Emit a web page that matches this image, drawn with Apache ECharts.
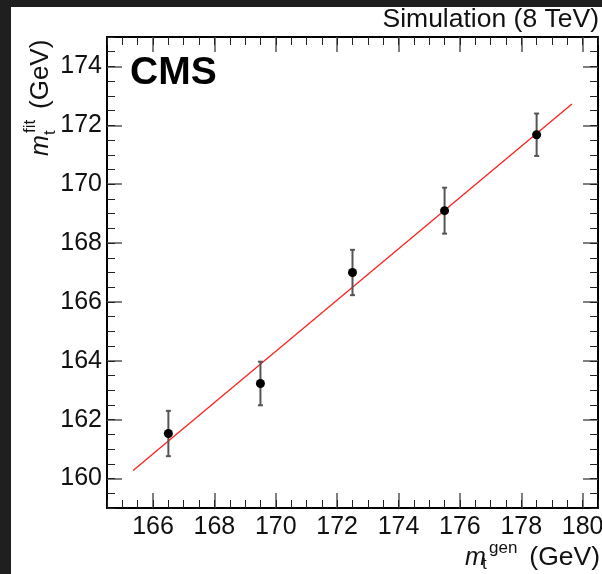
<!DOCTYPE html>
<html>
<head>
<meta charset="utf-8">
<script src="https://cdn.jsdelivr.net/npm/echarts@6/dist/echarts.min.js"></script>
<style>
html,body{margin:0;padding:0;background:#1f1f1f;}
#chart{width:602px;height:574px;}
</style>
</head>
<body>
<div id="chart"></div>
<script>
// ---- data ----
const xGen = [166.5, 169.5, 172.5, 175.5, 178.5];
const mFit = [161.53, 163.23, 167.0, 169.1, 171.68];
const mFitErr = [0.77, 0.74, 0.77, 0.78, 0.72];
const fitLineX = [165.35, 179.65];
const fitLineY = [160.27, 172.72];
const xTicks = [166, 168, 170, 172, 174, 176, 178, 180];
const yTicks = [160, 162, 164, 166, 168, 170, 172, 174];

const FONT = '"Liberation Sans", Arial, Helvetica, sans-serif';
const X_MIN = 164.5, X_MAX = 180.5, Y_MIN = 159, Y_MAX = 175;

const points = xGen.map((x, i) => [x, mFit[i]]);
const errs = xGen.map((x, i) => [x, mFit[i] - mFitErr[i], mFit[i] + mFitErr[i]]);
const fitLine = fitLineX.map((x, i) => [x, fitLineY[i]]);

function majorAxis(pos, ticks, isX, showLabel) {
  return {
    type: 'value', position: pos,
    min: isX ? X_MIN : Y_MIN, max: isX ? X_MAX : Y_MAX,
    axisLine: { show: true, onZero: false, lineStyle: { color: '#000', width: 2 } },
    axisTick: { show: true, inside: true, length: 15, customValues: ticks, lineStyle: { color: '#555', width: 1.5 } },
    axisLabel: { show: showLabel, customValues: ticks, fontSize: 25, color: '#111', fontFamily: FONT, margin: isX ? 7 : 5 },
    splitLine: { show: false }
  };
}
function minorAxis(pos, isX) {
  return {
    type: 'value', position: pos,
    min: isX ? X_MIN : Y_MIN, max: isX ? X_MAX : Y_MAX, interval: 0.5,
    axisLine: { show: false, onZero: false },
    axisTick: { show: true, inside: true, length: 8, lineStyle: { color: '#222', width: 1 } },
    axisLabel: { show: false },
    splitLine: { show: false }
  };
}

const chart = echarts.init(document.getElementById('chart'), null, { renderer: 'canvas' });
chart.setOption({
  animation: false,
  backgroundColor: '#1f1f1f',
  grid: { left: 107, top: 37, width: 491, height: 471, containLabel: false, outerBoundsMode: 'none' },
  xAxis: [
    majorAxis('bottom', xTicks, true, true),
    minorAxis('bottom', true),
    majorAxis('top', xTicks, true, false),
    minorAxis('top', true)
  ],
  yAxis: [
    majorAxis('left', yTicks, false, true),
    minorAxis('left', false),
    majorAxis('right', yTicks, false, false),
    minorAxis('right', false)
  ],
  graphic: [
    { type: 'rect', z: -10, silent: true, shape: { x: 11, y: 7, width: 591, height: 567 }, style: { fill: '#fff' } },
    { type: 'text', left: 130, top: 54, style: { text: 'CMS', font: 'bold 39px ' + FONT, fill: '#000' } },
    { type: 'text', x: 599, y: 6, style: { text: 'Simulation (8 TeV)', font: '26.5px ' + FONT, fill: '#111', align: 'right', verticalAlign: 'top' } },
    // x axis title
    { type: 'text', x: 465, y: 571, style: { text: 'm', font: 'italic 25px ' + FONT, fill: '#111', verticalAlign: 'bottom' } },
    { type: 'text', x: 482, y: 573, style: { text: 't', font: '17px ' + FONT, fill: '#111', verticalAlign: 'bottom' } },
    { type: 'text', x: 489, y: 557, style: { text: 'gen', font: '17px ' + FONT, fill: '#111', verticalAlign: 'bottom' } },
    { type: 'text', x: 600, y: 571, style: { text: '(GeV)', font: '26.5px ' + FONT, fill: '#111', align: 'right', verticalAlign: 'bottom' } },
    // y axis title (rotated)
    { type: 'group', x: 54, y: 156, rotation: Math.PI / 2, children: [
      { type: 'text', x: 0, y: 0, style: { text: 'm', font: 'italic 25px ' + FONT, fill: '#111', verticalAlign: 'bottom' } },
      { type: 'text', x: 21, y: 5, style: { text: 't', font: '17px ' + FONT, fill: '#111', verticalAlign: 'bottom' } },
      { type: 'text', x: 23, y: -15, style: { text: 'fit', font: '17px ' + FONT, fill: '#111', verticalAlign: 'bottom' } },
      { type: 'text', x: 47, y: 0, style: { text: '(GeV)', font: '26px ' + FONT, fill: '#111', verticalAlign: 'bottom' } }
    ]}
  ],
  series: [
    {
      type: 'line', xAxisIndex: 0, yAxisIndex: 0, data: fitLine, symbol: 'none',
      lineStyle: { color: '#ff2020', width: 1.3 }, z: 2
    },
    {
      type: 'custom', xAxisIndex: 0, yAxisIndex: 0, data: errs, z: 3,
      encode: { x: 0, y: [1, 2] },
      renderItem: function (params, api) {
        const x = api.value(0);
        const lo = api.coord([x, api.value(1)]);
        const hi = api.coord([x, api.value(2)]);
        const st = { stroke: '#555', lineWidth: 2 };
        const cap = 2.5;
        return { type: 'group', children: [
          { type: 'line', shape: { x1: lo[0], y1: lo[1], x2: hi[0], y2: hi[1] }, style: st },
          { type: 'line', shape: { x1: lo[0] - cap, y1: lo[1], x2: lo[0] + cap, y2: lo[1] }, style: st },
          { type: 'line', shape: { x1: hi[0] - cap, y1: hi[1], x2: hi[0] + cap, y2: hi[1] }, style: st }
        ]};
      }
    },
    {
      type: 'scatter', xAxisIndex: 0, yAxisIndex: 0, data: points, symbol: 'circle', symbolSize: 9,
      itemStyle: { color: '#000', opacity: 1 }, z: 4
    }
  ]
});
</script>
</body>
</html>
